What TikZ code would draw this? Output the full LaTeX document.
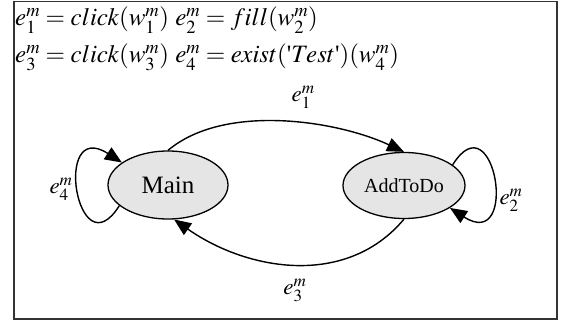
\documentclass[tikz,border=0pt]{standalone}
\usepackage{mathptmx}
\usepackage{fontspec}
\setmainfont{Liberation Serif}
\usetikzlibrary{arrows.meta,shapes.geometric}

\begin{document}
\begin{tikzpicture}[x=1pt, y=1pt, >={Triangle[length=17pt,width=14pt]},
    state/.style={ellipse, draw, fill=gray!20, line width=1.3pt, inner sep=0pt},
    trans/.style={->, line width=1.4pt},
    evlabel/.style={font=\fontsize{23}{25}\selectfont, inner sep=0pt},
    eqline/.style={anchor=base west, inner sep=0pt, font=\fontsize{25}{30}\selectfont}]
\useasboundingbox (0,0) rectangle (563,322);
\draw[line width=1.6pt, black!80] (14,3) rectangle (557,320.5);

% event definitions
\node[eqline] (eqa) at (15,296) {$e_1^m = click(w_1^m)\ e_2^m = fill(w_2^m)$};
\node[eqline] (eqb) at (15,259) {$e_3^m = click(w_3^m)\ e_4^m = exist(\mbox{\textquotesingle}Test\mbox{\textquotesingle})(w_4^m)$};

% states
\node[state, minimum width=120pt, minimum height=68pt, font=\fontsize{25}{28}\selectfont] (main) at (168,137) {Main};
\node[state, minimum width=122pt, minimum height=66pt, font=\fontsize{20}{24}\selectfont] (add) at (404,136.5) {AddToDo};

% transitions
\draw[trans] (main.north) to[out=40, in=155, looseness=0.8] node[evlabel, pos=0.58, above=14pt] (lba) {$e_1^m$} (add.north);
\draw[trans] (add.south) to[out=230, in=-35] node[evlabel, below=14pt] (lbc) {$e_3^m$} (main.280);
\draw[trans] (main.203) .. controls +(-42,-67) and +(-70,45) .. (main.154);
\draw[trans] (add.23) .. controls +(42,67) and +(70,-45) .. (add.334);
\node[evlabel] (lbd) at (61,133) {$e_4^m$};
\node[evlabel] (lbb) at (511,122) {$e_2^m$};

\end{tikzpicture}
\end{document}
